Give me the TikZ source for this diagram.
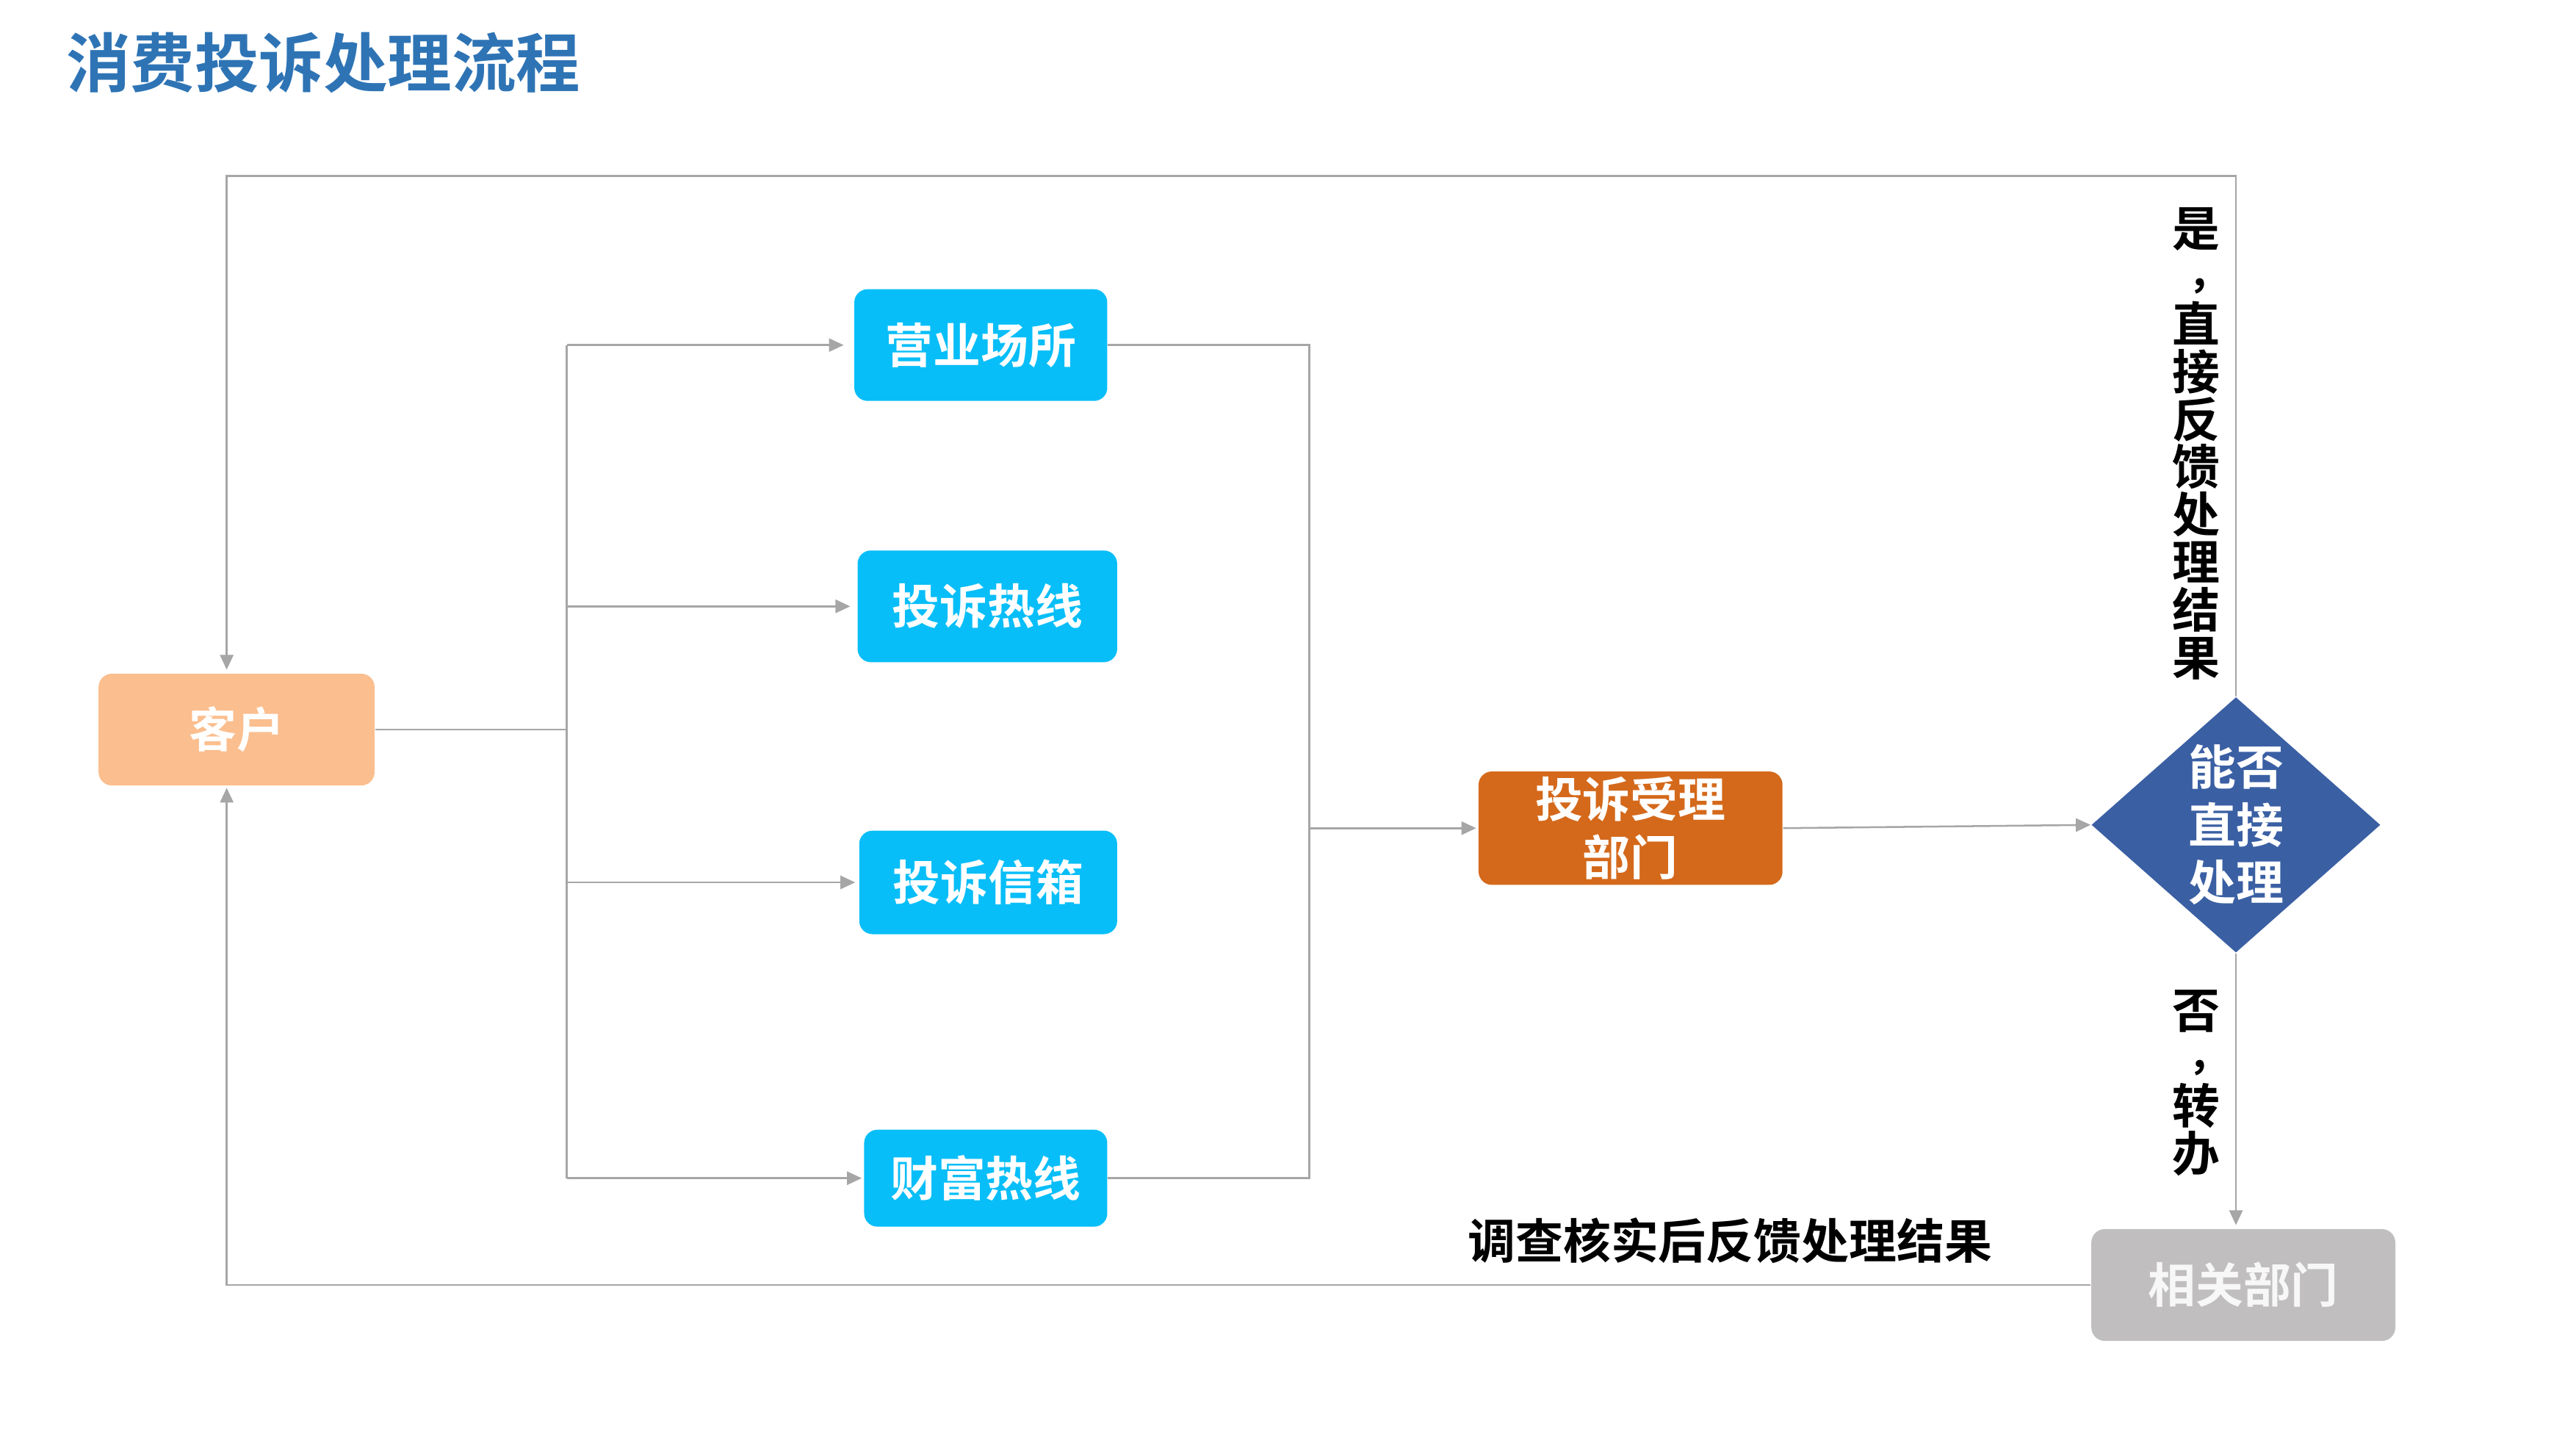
\documentclass[tikz,border=0pt]{standalone}
\usepackage{fontspec}
\setmainfont{Noto Sans CJK SC}[BoldFont=* Bold]
\usetikzlibrary{arrows.meta,shapes.geometric}
\definecolor{titleblue}{HTML}{2E74B5}
\definecolor{peach}{HTML}{FBBE8E}
\definecolor{cyanbox}{HTML}{08BEF8}
\definecolor{orangebox}{HTML}{D4691B}
\definecolor{navy}{HTML}{3A5FA3}
\definecolor{graybox}{HTML}{C0BEBE}
\definecolor{lineg}{HTML}{A6A6A6}
\newcommand\pxu{0.4448bp}
\newcommand\vcomma{\makebox[1em][l]{\hspace{0.33em}\raisebox{0.12em}{\fontsize{11bp}{11bp}\selectfont ，}}}
\begin{document}
\begin{tikzpicture}[x=0.4448bp,y=-0.4448bp,
  boxstyle/.style={rounded corners=3.6bp, inner sep=0pt, align=center,
    text=white, font=\bfseries\fontsize{12.9bp}{15.6bp}\selectfont},
  ln/.style={draw=lineg, line width=0.5bp},
  arr/.style={ln, -{Triangle[length=4bp,width=3.6bp]}},
  lab/.style={align=center, inner sep=0pt, font=\bfseries\fontsize{12.9bp}{12.9bp}\selectfont}]
\useasboundingbox (0,0) rectangle (1568,882.6);

\node[anchor=west, inner sep=0pt, text=titleblue, font=\bfseries\fontsize{17.4bp}{20bp}\selectfont] (title) at (40,38) {消费投诉处理流程};

\node[boxstyle, fill=peach, minimum width=168*\pxu, minimum height=68*\pxu] (kh) at (144,444) {客户};
\node[boxstyle, fill=cyanbox, minimum width=154*\pxu, minimum height=68*\pxu] (yy) at (597,210) {营业场所};
\node[boxstyle, fill=cyanbox, minimum width=158*\pxu, minimum height=68*\pxu] (rx) at (601,369) {投诉热线};
\node[boxstyle, fill=cyanbox, minimum width=157*\pxu, minimum height=63*\pxu] (xx) at (601.5,537) {投诉信箱};
\node[boxstyle, fill=cyanbox, minimum width=148*\pxu, minimum height=59*\pxu] (cf) at (600,717) {财富热线};
\node[boxstyle, fill=orangebox, minimum width=185*\pxu, minimum height=69*\pxu] (sl) at (992.5,504) {投诉受理\\部门};
\node[diamond, fill=navy, inner sep=0pt, minimum width=176*\pxu, minimum height=150*\pxu, align=center, text=white, font=\bfseries\fontsize{12.9bp}{15.6bp}\selectfont] (dm) at (1361,502) {能否\\直接\\处理};
\node[boxstyle, fill=graybox, text=white!94!gray, minimum width=185*\pxu, minimum height=68*\pxu] (xg) at (1365.5,782) {相关部门};

\node[lab] (yes) at (1337,270) {是\\\vcomma\\直\\接\\反\\馈\\处\\理\\结\\果};
\node[lab] (no) at (1337,659) {否\\\vcomma\\转\\办};
\node[lab] (fb) at (1053,755) {调查核实后反馈处理结果};

\coordinate (bl) at (345,444);
\coordinate (br) at (797,505);
\coordinate (tl) at (138,107);
\coordinate (bot) at (138,782);

\draw[ln] (kh.east) -- (kh.east -| bl);
\draw[ln] (bl |- yy.west) -- (bl |- cf.west);
\draw[arr, shorten >=6*\pxu] (bl |- yy.west) -- (yy.west);
\draw[arr, shorten >=4*\pxu] (bl |- rx.west) -- (rx.west);
\draw[arr, shorten >=2*\pxu] (bl |- xx.west) -- (xx.west);
\draw[arr, shorten >=1*\pxu] (bl |- cf.west) -- (cf.west);
\draw[ln] (yy.east) -- (yy.east -| br) -- (cf.east -| br) -- (cf.east);
\draw[arr, shorten >=1*\pxu] (br |- sl.west) -- (sl.west);
\draw[arr] (sl.east) -- (dm.west);
\draw[arr, shorten >=2*\pxu] (dm.north) -- (dm.north |- tl) -- (tl) -- (tl |- kh.north);
\draw[arr, shorten >=2*\pxu] (dm.south) -- (dm.south |- xg.north);
\draw[arr, shorten >=1*\pxu] (xg.west) -- (bot) -- (bot |- kh.south);
\end{tikzpicture}
\end{document}
